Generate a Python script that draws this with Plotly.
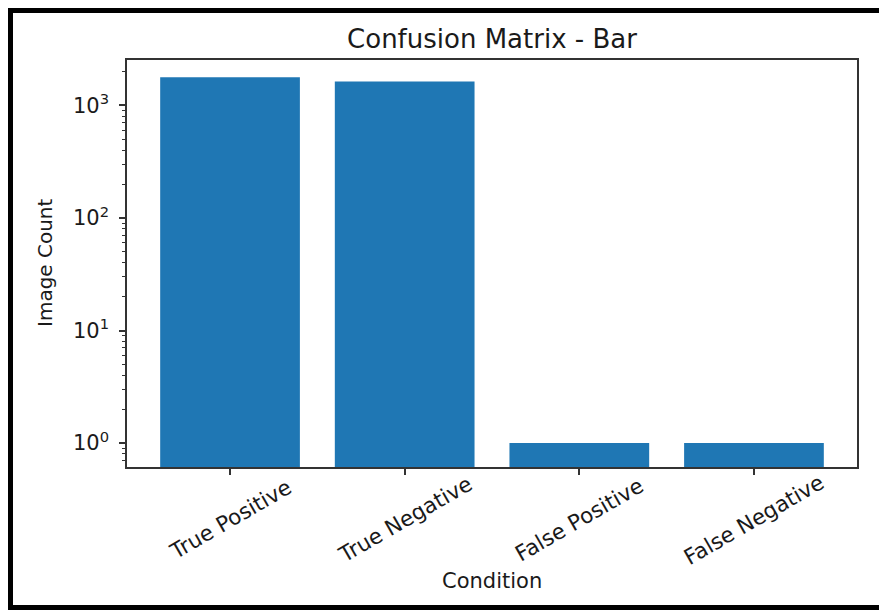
import plotly.graph_objects as go

categories = ["True Positive", "True Negative", "False Positive", "False Negative"]
counts = [1780, 1630, 1, 1]
major_ticks = [1, 10, 100, 1000]
major_text = ["10<sup>0</sup>", "10<sup>1</sup>", "10<sup>2</sup>", "10<sup>3</sup>"]
minor_ticks = [m * 10 ** k for k in range(-1, 4) for m in range(2, 10)]

# page has an 8px body margin; work in page coordinates and offset
OFF = 8
W, H = 887 - OFF, 610 - OFF
L, R, T, B = 127, 857, 60, 467  # plot area in page pixels
pw, ph = R - L, B - T

def px(x):
    return (x - L) / pw

def py(y):
    return (B - y) / ph

FONT = "DejaVu Sans"
TXT = "#1a1a1a"
AX = "#333333"

fig = go.Figure()
fig.add_trace(go.Bar(
    x=list(range(len(categories))), y=counts, width=0.8,
    marker=dict(color="#1f77b4", line=dict(width=0)),
))

annotations = []
for i, c in enumerate(categories):
    annotations.append(dict(
        x=i, xref="x", y=py(519), yref="paper", text=c, showarrow=False,
        textangle=-30, xanchor="center", yanchor="middle",
        font=dict(family=FONT, size=21.5, color=TXT),
    ))
annotations.append(dict(
    x=0.5, xref="paper", y=py(581), yref="paper", text="Condition", showarrow=False,
    xanchor="center", yanchor="middle", font=dict(family=FONT, size=21, color=TXT),
))
annotations.append(dict(
    x=px(45), xref="paper", y=py(263), yref="paper", text="Image Count", showarrow=False,
    textangle=-90, xanchor="center", yanchor="middle", font=dict(family=FONT, size=20, color=TXT),
))

shapes = []
for (x0, y0, x1, y1) in [(OFF, OFF, 13, 610), (OFF, OFF, 887, 13), (879, OFF, 887, 610), (OFF, 605, 887, 610)]:
    shapes.append(dict(type="rect", xref="paper", yref="paper",
                       x0=px(x0), x1=px(x1), y0=py(y0), y1=py(y1),
                       fillcolor="black", line=dict(width=0), layer="above"))

fig.update_layout(
    width=W, height=H,
    margin=dict(l=L - OFF, r=887 - R, t=T - OFF, b=610 - B),
    paper_bgcolor="white", plot_bgcolor="white",
    showlegend=False,
    title=dict(text="Confusion Matrix - Bar", x=0.5, xref="paper", xanchor="center",
               y=(610 - 39) / H, yref="container", yanchor="middle",
               font=dict(family=FONT, size=26, color=TXT)),
    xaxis=dict(range=[-0.59, 3.59], showgrid=False, zeroline=False,
               showline=True, linecolor=AX, linewidth=1.5, mirror=True,
               tickmode="array", tickvals=list(range(len(categories))),
               showticklabels=False, ticks="outside", ticklen=6, tickwidth=1.5, tickcolor=AX),
    yaxis=dict(type="log", range=[-0.213, 3.404], showgrid=False, zeroline=False,
               showline=True, linecolor=AX, linewidth=1.5, mirror=True,
               tickmode="array", tickvals=major_ticks, ticktext=major_text,
               ticks="outside", ticklen=6, tickwidth=1.5, tickcolor=AX,
               ticklabelstandoff=6,
               tickfont=dict(family=FONT, size=21, color=TXT),
               minor=dict(tickmode="array", tickvals=minor_ticks, ticks="outside",
                          ticklen=3.5, tickwidth=1.2, tickcolor=AX)),
    annotations=annotations,
    shapes=shapes,
)

fig.write_html("out.html")
